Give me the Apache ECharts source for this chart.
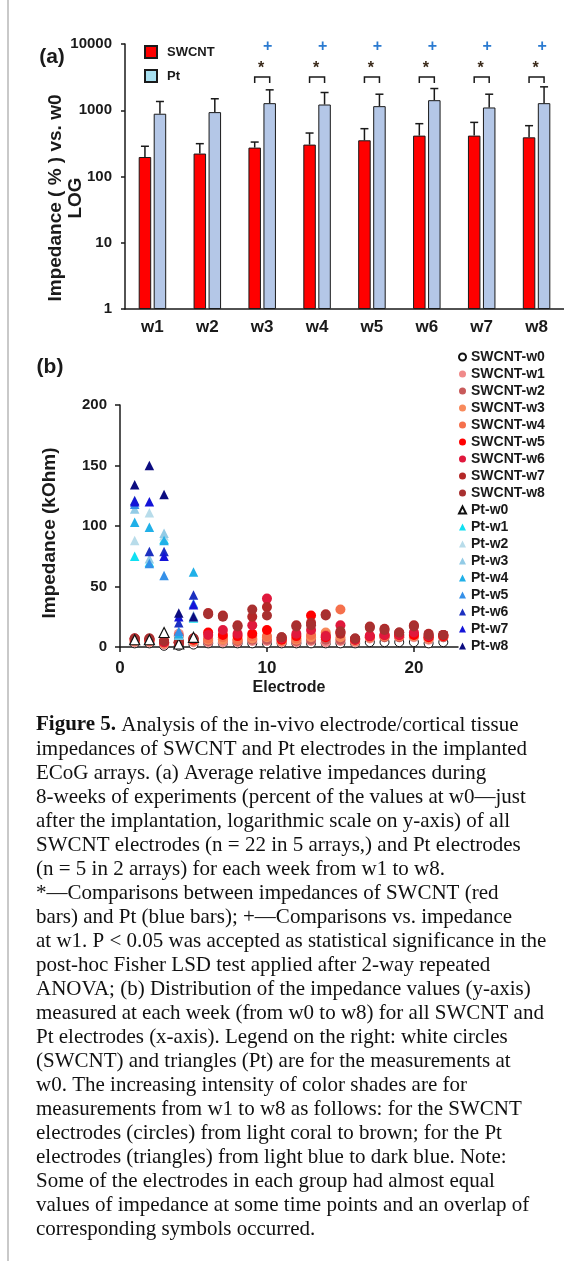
<!DOCTYPE html>
<html>
<head>
<meta charset="utf-8">
<script src="https://cdn.jsdelivr.net/npm/echarts@6.0.0/dist/echarts.min.js"></script>
<style>
html,body{margin:0;padding:0;background:#ffffff;}
#chart{width:564px;height:1261px;}
</style>
</head>
<body>
<div id="chart"></div>
<script>
// ---------- Panel (a) data ----------
const weeks      = ['w1','w2','w3','w4','w5','w6','w7','w8'];
const swcntMean  = [197, 222, 273, 303, 352, 414, 414, 390];
const swcntUpper = [286, 313, 331, 453, 527, 627, 656, 585];
const ptMean     = [886, 937, 1279, 1221, 1153, 1419, 1101, 1279];
const ptUpper    = [1356, 1490, 2032, 1853, 1746, 2128, 1746, 2256];
const starWeeks  = ['w3','w4','w5','w6','w7','w8'];
const plusWeeks  = ['w3','w4','w5','w6','w7','w8'];

// ---------- Panel (b) data ----------
const swcntElectrodes = [1,2,3,4,5,6,7,8,9,10,11,12,13,14,15,16,17,18,19,20,21,22];
const ptElectrodes    = [1,2,3,4,5];
const swcntW0 = [3,3,1,1,2,3,3,3,3,3,3,3,3,3,3,3,4,4,4,4,3,4];
const swcntW1 = [4,4,2,11,4,4,4,4,5,5,4,4,5,4,5,4,7,8,8,8,6,8];
const swcntW2 = [5,5,3,9,5,5,6,5,6,6,5,5,6,6,6,5,8,8,8,9,7,8];
const swcntW3 = [5,5,3,5,5,6,6,6,7,8,5,6,8,12,8,5,8,9,9,9,7,9];
const swcntW4 = [6,5,4,4,6,7,8,6,9,9,6,7,10,10,31,6,8,9,9,10,8,9];
const swcntW5 = [6,6,4,3,6,12,10,9,11,14,6,9,26,8,12,6,9,10,10,10,8,9];
const swcntW6 = [7,6,4,4,7,10,14,11,18,40,7,11,14,9,18,6,9,10,10,12,9,10];
const swcntW7 = [7,7,5,4,7,28,26,18,25,33,8,18,20,27,11,7,17,15,12,18,11,10];
const swcntW8 = [7,7,5,4,7,27,25,17,31,26,8,17,18,26,13,7,16,14,12,17,10,10];
const ptW0 = [6,6,12,2.5,8];
const ptW1 = [75,70,89,10,24];
const ptW2 = [88,111,92,12,25];
const ptW3 = [114,73,94,10,26];
const ptW4 = [103,99,88,11,62];
const ptW5 = [118,69,59,13,36];
const ptW6 = [121,79,79,20,43];
const ptW7 = [120,120,75,25,35];
const ptW8 = [134,150,126,28,25];
const scatterXTicks = [0,10,20];

const swcntWeekNames = ['SWCNT-w0','SWCNT-w1','SWCNT-w2','SWCNT-w3','SWCNT-w4','SWCNT-w5','SWCNT-w6','SWCNT-w7','SWCNT-w8'];
const ptWeekNames    = ['Pt-w0','Pt-w1','Pt-w2','Pt-w3','Pt-w4','Pt-w5','Pt-w6','Pt-w7','Pt-w8'];
const swcntWeekData  = [swcntW0,swcntW1,swcntW2,swcntW3,swcntW4,swcntW5,swcntW6,swcntW7,swcntW8];
const ptWeekData     = [ptW0,ptW1,ptW2,ptW3,ptW4,ptW5,ptW6,ptW7,ptW8];

// ---------- styles ----------
const SANS = '"Liberation Sans", Arial, Helvetica, sans-serif';
const SERIF = '"Liberation Serif", "Times New Roman", serif';
const INK = '#1a1a1a';
const swcntColors = ['#ffffff','#f08a8a','#c85a5a','#f88a5c','#f5704c','#ff0000','#e0183c','#b42828','#a83030'];
const ptColors    = ['#ffffff','#10e0f2','#b8dcea','#92cbe6','#20b0e8','#3590e8','#1c30c0','#1414d8','#0c0c80'];

const BAR_W = 12.5;
const BAR_OFFSET = 7.5;   // half distance between the centres of the two bars
const CAP = 4;
const BRACKET_TOP = 3180, BRACKET_LEG = 2580, STAR_LEVEL = 4300, PLUS_LEVEL = 9200;

function errorSeries(name, means, uppers, side) {
  return {
    type: 'custom', name: name, xAxisIndex: 0, yAxisIndex: 0, z: 4, silent: true,
    data: weeks.map((w, i) => [i, means[i], uppers[i]]),
    renderItem: function (params, api) {
      const b = api.coord([api.value(0), api.value(1)]);
      const t = api.coord([api.value(0), api.value(2)]);
      const x = b[0] + side * BAR_OFFSET;
      const st = { stroke: INK, lineWidth: 1.5 };
      return { type: 'group', children: [
        { type: 'line', shape: { x1: x, y1: b[1], x2: x, y2: t[1] }, style: st },
        { type: 'line', shape: { x1: x - CAP, y1: t[1], x2: x + CAP, y2: t[1] }, style: st }
      ]};
    }
  };
}

const scatterSeries = [];
swcntWeekNames.forEach((nm, k) => {
  scatterSeries.push({
    type: 'scatter', name: nm, xAxisIndex: 1, yAxisIndex: 1, clip: false, silent: true,
    symbol: 'circle', symbolSize: k === 0 ? 9 : 10,
    itemStyle: k === 0 ? { color: '#ffffff', borderColor: '#111', borderWidth: 1, opacity: 1 }
                       : { color: swcntColors[k], opacity: 1 },
    data: swcntElectrodes.map((e, i) => [e, swcntWeekData[k][i]])
  });
});
ptWeekNames.forEach((nm, k) => {
  scatterSeries.push({
    type: 'scatter', name: nm, xAxisIndex: 1, yAxisIndex: 1, clip: false, silent: true,
    symbol: 'triangle', symbolSize: k === 0 ? 10 : 9.5,
    itemStyle: k === 0 ? { color: '#ffffff', borderColor: '#111', borderWidth: 1.2, opacity: 1 }
                       : { color: ptColors[k], opacity: 1 },
    data: ptElectrodes.map((e, i) => [e, ptWeekData[k][i]])
  });
});

const captionLines = [
  '{b|Figure 5.} Analysis of the in-vivo electrode/cortical tissue',
  'impedances of SWCNT and Pt electrodes in the implanted',
  'ECoG arrays. (a) Average relative impedances during',
  '8-weeks of experiments (percent of the values at w0\u2014just',
  'after the implantation, logarithmic scale on y-axis) of all',
  'SWCNT electrodes (n = 22 in 5 arrays,) and Pt electrodes',
  '(n = 5 in 2 arrays) for each week from w1 to w8.',
  '*\u2014Comparisons between impedances of SWCNT (red',
  'bars) and Pt (blue bars); +\u2014Comparisons vs. impedance',
  'at w1. P < 0.05 was accepted as statistical significance in the',
  'post-hoc Fisher LSD test applied after 2-way repeated',
  'ANOVA; (b) Distribution of the impedance values (y-axis)',
  'measured at each week (from w0 to w8) for all SWCNT and',
  'Pt electrodes (x-axis). Legend on the right: white circles',
  '(SWCNT) and triangles (Pt) are for the measurements at',
  'w0. The increasing intensity of color shades are for',
  'measurements from w1 to w8 as follows: for the SWCNT',
  'electrodes (circles) from light coral to brown; for the Pt',
  'electrodes (triangles) from light blue to dark blue. Note:',
  'Some of the electrodes in each group had almost equal',
  'values of impedance at some time points and an overlap of',
  'corresponding symbols occurred.'
];

const chart = echarts.init(document.getElementById('chart'), null, { renderer: 'canvas' });
chart.setOption({
  animation: false,
  backgroundColor: '#ffffff',
  textStyle: { fontFamily: SANS },
  grid: [
    { left: 125, top: 44, width: 439, height: 265 },
    { left: 120, top: 405, width: 338, height: 242 }
  ],
  xAxis: [
    { type: 'category', gridIndex: 0, data: weeks,
      axisLine: { lineStyle: { color: INK, width: 1.5 } },
      axisTick: { show: false },
      axisLabel: { margin: 10, fontFamily: SANS, fontWeight: 'bold', fontSize: 17, color: INK },
      splitLine: { show: false } },
    { type: 'value', gridIndex: 1, min: 0, max: 23, interval: 10,
      name: 'Electrode', nameLocation: 'middle', nameGap: 33,
      nameTextStyle: { fontFamily: SANS, fontWeight: 'bold', fontSize: 16, color: INK },
      axisLine: { onZero: false, lineStyle: { color: INK, width: 1.5 } },
      axisTick: { show: true, length: 5, lineStyle: { color: INK, width: 1.5 }, customValues: scatterXTicks },
      axisLabel: { margin: 13, fontFamily: SANS, fontWeight: 'bold', fontSize: 17, color: INK, customValues: scatterXTicks },
      splitLine: { show: false } }
  ],
  yAxis: [
    { type: 'log', gridIndex: 0, logBase: 10, min: 1, max: 10000,
      axisLine: { show: true, lineStyle: { color: INK, width: 1.5 } },
      axisTick: { show: true, length: 4, lineStyle: { color: INK, width: 1.5 } },
      minorTick: { show: false },
      axisLabel: { margin: 13, fontFamily: SANS, fontWeight: 'bold', fontSize: 15, color: INK,
        formatter: function (v) { return String(Math.round(v)); } },
      splitLine: { show: false } },
    { type: 'value', gridIndex: 1, min: 0, max: 200, interval: 50,
      axisLine: { show: true, onZero: false, lineStyle: { color: INK, width: 1.5 } },
      axisTick: { show: true, length: 5, lineStyle: { color: INK, width: 1.5 } },
      axisLabel: { margin: 13, fontFamily: SANS, fontWeight: 'bold', fontSize: 15, color: INK },
      splitLine: { show: false } }
  ],
  legend: [
    { data: [ { name: 'SWCNT' }, { name: 'Pt', itemStyle: { color: '#a8e0f0' } } ],
      orient: 'vertical', left: 139, top: 40, itemWidth: 12, itemHeight: 12, itemGap: 10,
      icon: 'rect', selectedMode: false,
      textStyle: { fontFamily: SANS, fontWeight: 'bold', fontSize: 13, color: INK, padding: [0, 0, 0, 5] } },
    { data: swcntWeekNames.concat(ptWeekNames),
      orient: 'vertical', left: 453, top: 345, itemWidth: 7, itemHeight: 7, itemGap: 3,
      selectedMode: false,
      textStyle: { fontFamily: SANS, fontWeight: 'bold', fontSize: 14, color: INK } }
  ],
  series: [
    { type: 'bar', name: 'SWCNT', xAxisIndex: 0, yAxisIndex: 0, barWidth: BAR_W, barGap: '20%', silent: true,
      itemStyle: { color: '#ff0000', borderColor: INK, borderWidth: 1 }, data: swcntMean },
    { type: 'bar', name: 'Pt', xAxisIndex: 0, yAxisIndex: 0, barWidth: BAR_W, barGap: '20%', silent: true,
      itemStyle: { color: '#b4c7e7', borderColor: INK, borderWidth: 1 }, data: ptMean },
    errorSeries('SWCNT error', swcntMean, swcntUpper, -1),
    errorSeries('Pt error', ptMean, ptUpper, 1),
    { type: 'custom', name: 'significance', xAxisIndex: 0, yAxisIndex: 0, silent: true, z: 5,
      data: starWeeks.map(w => [weeks.indexOf(w)]),
      renderItem: function (params, api) {
        const i = api.value(0);
        const top = api.coord([i, BRACKET_TOP]);
        const leg = api.coord([i, BRACKET_LEG]);
        const star = api.coord([i, STAR_LEVEL]);
        const xl = top[0] - BAR_OFFSET, xr = top[0] + BAR_OFFSET;
        return { type: 'group', children: [
          { type: 'polyline', shape: { points: [[xl, leg[1]], [xl, top[1]], [xr, top[1]], [xr, leg[1]]] },
            style: { stroke: INK, lineWidth: 1.5, fill: null } },
          { type: 'text', x: top[0] - 1, y: star[1],
            style: { text: '*', font: 'bold 16px ' + SANS, fill: '#3a2a1a', align: 'center', verticalAlign: 'middle' } }
        ]};
      } },
    { type: 'custom', name: 'vs w1', xAxisIndex: 0, yAxisIndex: 0, silent: true, z: 5,
      data: plusWeeks.map(w => [weeks.indexOf(w)]),
      renderItem: function (params, api) {
        const p = api.coord([api.value(0), PLUS_LEVEL]);
        return { type: 'text', x: p[0] + BAR_OFFSET - 2, y: p[1],
          style: { text: '+', font: 'bold 16px ' + SANS, fill: '#2a7ad0', align: 'center', verticalAlign: 'middle' } };
      } }
  ].concat(scatterSeries),
  graphic: [
    { type: 'line', shape: { x1: 8, y1: 0, x2: 8, y2: 1261 }, style: { stroke: '#c9c9c9', lineWidth: 2 }, silent: true },
    { type: 'text', x: 52, y: 57, style: { text: '(a)', font: 'bold 21px ' + SANS, fill: INK, align: 'center', verticalAlign: 'middle' } },
    { type: 'text', x: 50, y: 367, style: { text: '(b)', font: 'bold 21px ' + SANS, fill: INK, align: 'center', verticalAlign: 'middle' } },
    { type: 'text', x: 66, y: 198, rotation: Math.PI / 2,
      style: { text: 'Impedance ( % ) vs. w0\nLOG', font: 'bold 19px ' + SANS, lineHeight: 20, fill: INK, align: 'center', verticalAlign: 'middle' } },
    { type: 'text', x: 50, y: 533, rotation: Math.PI / 2,
      style: { text: 'Impedance (kOhm)', font: 'bold 19px ' + SANS, fill: INK, align: 'center', verticalAlign: 'middle' } },
    { type: 'text', x: 36, y: 713,
      style: { text: captionLines.join('\n'), font: '21px ' + SERIF, lineHeight: 24, fill: '#111',
        rich: { b: { font: 'bold 21px ' + SERIF, lineHeight: 24, fill: '#111' } } } }
  ]
});
</script>
</body>
</html>
